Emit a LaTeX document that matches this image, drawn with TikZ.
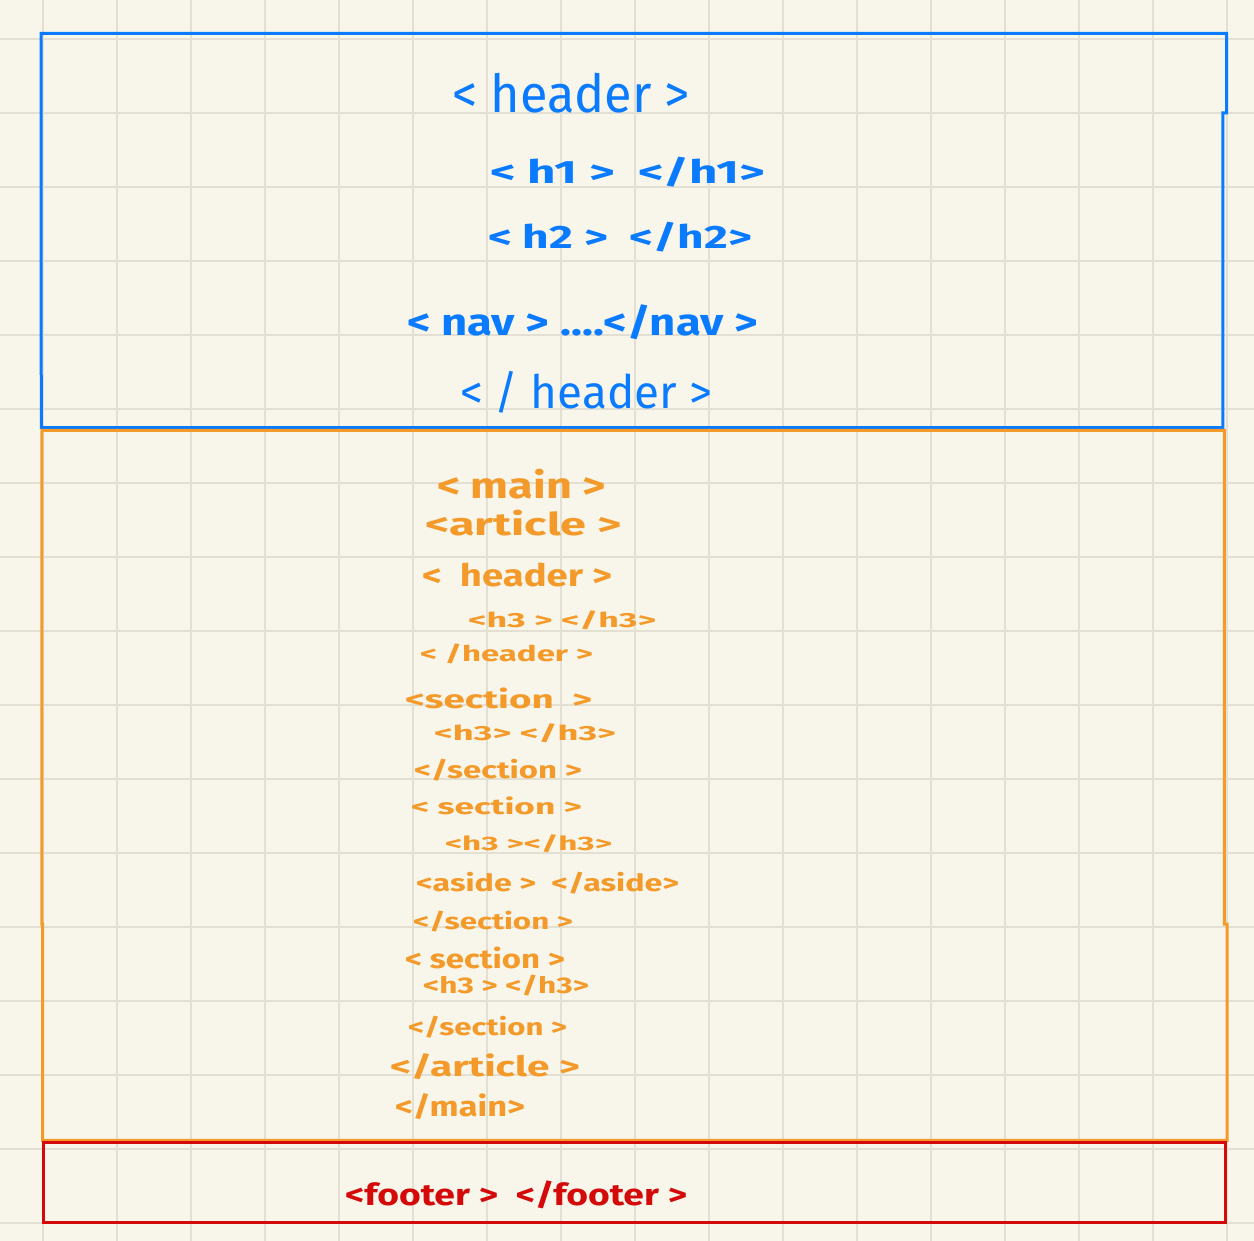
\documentclass[tikz,border=0pt]{standalone}
\usepackage{fontspec}
\setmainfont{Fira Sans}
\definecolor{bgpaper}{HTML}{F8F6EA}
\definecolor{gridcol}{HTML}{E3E0D3}
\definecolor{hblue}{HTML}{0A7BFF}
\definecolor{horange}{HTML}{F39A2A}
\definecolor{hred}{HTML}{D40A0A}
\tikzset{
  tagtext/.style={anchor=west, inner sep=0pt, outer sep=0pt, font=\bfseries},
  bluetag/.style={tagtext, text=hblue},
  bigbluetag/.style={bluetag, font=\mdseries},
  orangetag/.style={tagtext, text=horange},
  redtag/.style={tagtext, text=hred},
  gridline/.style={draw=gridcol, line width=2.2pt},
  boxline/.style={line width=3pt, line join=miter},
}
% width, total height, text
\newcommand{\tagw}[3]{\resizebox*{#1pt}{#2pt}{#3}}
\begin{document}
\begin{tikzpicture}[x=1pt,y=-1pt]
\fill[bgpaper] (0,0) rectangle (1254,1241);
\useasboundingbox (0,0) rectangle (1254,1241);
% grid
\foreach \k in {0,...,16}{
  \draw[gridline] ({42.7+74*\k},0) -- ({42.7+74*\k},1241);
  \draw[gridline] (0,{39.3+74*\k}) -- (1254,{39.3+74*\k});
}
% boxes
\draw[boxline, draw=hblue] (41,113) -- (41,33.5) -- (1226.5,33.5) -- (1226.5,113)
  -- (1222.8,113) -- (1222.8,427.7) -- (41.3,427.7) -- cycle;
\draw[boxline, draw=horange] (42,430.3) -- (1224.3,430.3) -- (1224.3,924)
  -- (1227,924) -- (1227,1140.3) -- (42.7,1140.3) -- (42.7,924) -- (41.8,924) -- cycle;
\draw[boxline, draw=hred] (43.3,1142.3) rectangle (1225,1222.5);
% blue header texts
\node[bigbluetag] (hdr)  at (452,93)  {\tagw{238}{40}{< header >}};
\node[bluetag] (hone) at (490,172) {\tagw{275}{30}{< h1 > \ </h1>}};
\node[bluetag] (htwo) at (488,237) {\tagw{264}{30}{< h2 > \ </h2>}};
\node[bluetag] (nav)  at (407,322) {\tagw{351}{35}{< nav > ....</nav >}};
\node[bigbluetag] (ehdr) at (460,392) {\tagw{252}{42}{< / header >}};
% orange main texts
\node[orangetag] (omain) at (437,484)  {\tagw{169}{30}{< main >}};
\node[orangetag] (oart)  at (425,523)  {\tagw{197}{26}{<article >}};
\node[orangetag] (ohdr)  at (422,575)  {\tagw{190}{24}{< \ header >}};
\node[orangetag] (ohta)  at (468,620)  {\tagw{188}{19}{<h3 > </h3>}};
\node[orangetag] (oehdr) at (420,654)  {\tagw{173}{20}{< /header >}};
\node[orangetag] (osca)  at (405,698)  {\tagw{187}{21}{<section \ >}};
\node[orangetag] (ohtb)  at (434,733)  {\tagw{182}{19}{<h3> </h3>}};
\node[orangetag] (oesa)  at (414,770)  {\tagw{168}{22}{</section >}};
\node[orangetag] (oscb)  at (411,806)  {\tagw{171}{18}{< section >}};
\node[orangetag] (ohtc)  at (445,844)  {\tagw{167}{18}{<h3 ></h3>}};
\node[orangetag] (oasd)  at (416,883)  {\tagw{263}{22}{<aside > \ </aside>}};
\node[orangetag] (oesb)  at (413,922)  {\tagw{160}{21}{</section >}};
\node[orangetag] (oscc)  at (405,958)  {\tagw{160}{22}{< section >}};
\node[orangetag] (ohtd)  at (423,986)  {\tagw{166}{21}{<h3 > </h3>}};
\node[orangetag] (oesc)  at (408,1027) {\tagw{159}{22}{</section >}};
\node[orangetag] (oeart) at (390,1067) {\tagw{190}{26}{</article >}};
\node[orangetag] (oemain) at (395,1107) {\tagw{130}{26}{</main>}};
% red footer
\node[redtag] (foot) at (345,1195) {\tagw{342}{28}{<footer > \ </footer >}};
\end{tikzpicture}
\end{document}
